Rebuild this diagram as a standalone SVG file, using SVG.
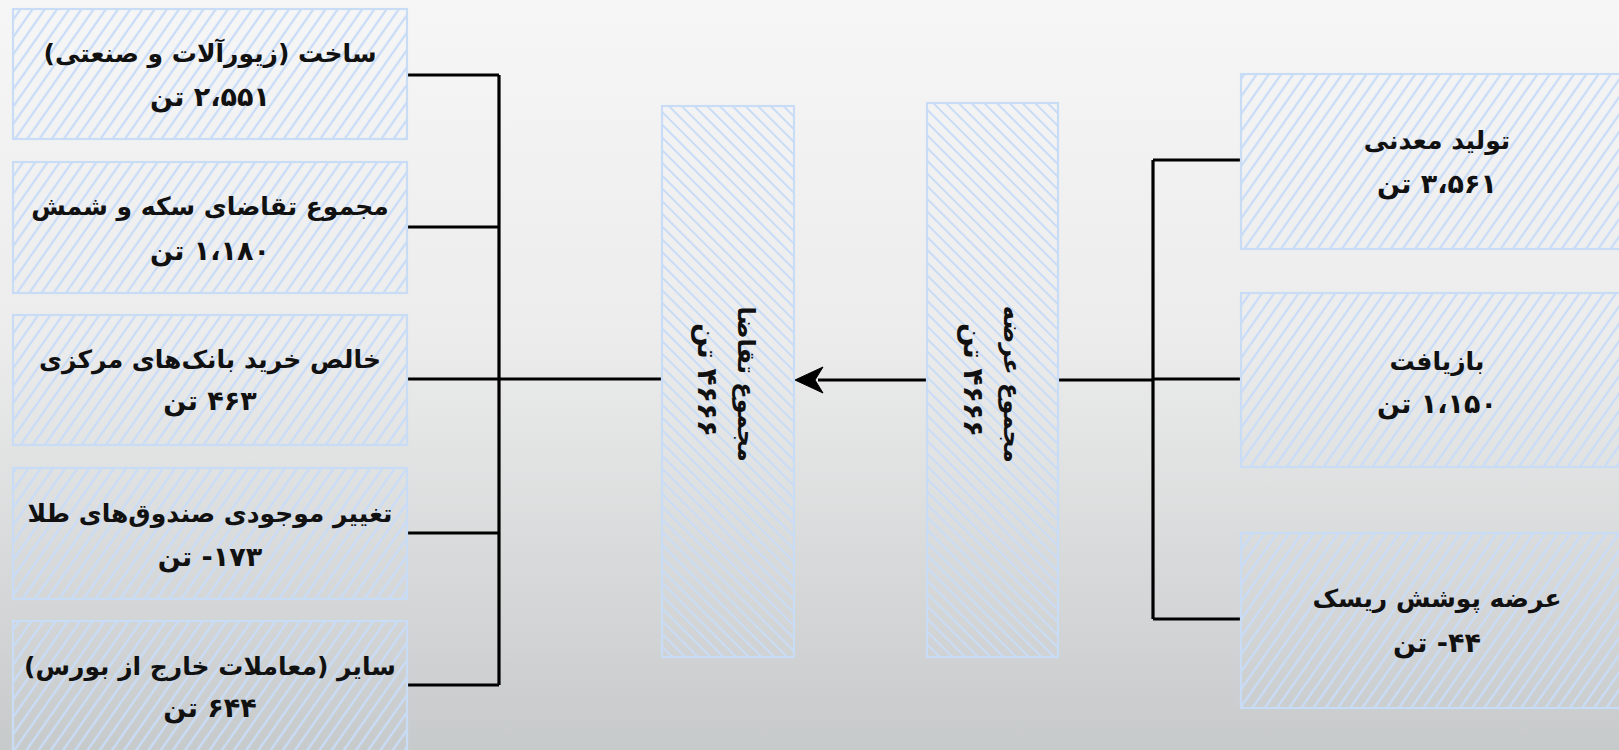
<svg xmlns="http://www.w3.org/2000/svg" width="1619" height="750" viewBox="0 0 1619 750">
  <style>
    .box { stroke: #c9dcf6; stroke-width: 2.2; }
    .side { fill: url(#hatchSide); }
    .mid { fill: url(#hatchMid); }
    .lbl { font-family: 'DejaVu Sans', 'Noto Sans', sans-serif; font-weight: bold; font-size: 25px; fill: #111; text-anchor: middle; direction: rtl; }
    .num { font-size: 27px; }
    .vlbl { font-family: 'DejaVu Sans', 'Noto Sans', sans-serif; font-weight: bold; font-size: 24px; fill: #111; text-anchor: middle; direction: rtl; }
    .vnum { font-size: 28px; }
    .conn { stroke: #000; stroke-width: 3.2; fill: none; }
  </style>
  <defs>
    <linearGradient id="bg" x1="0" y1="0" x2="0" y2="1">
      <stop offset="0" stop-color="#f6f6f6"/>
      <stop offset="0.45" stop-color="#ececec"/>
      <stop offset="1" stop-color="#c7cacb"/>
    </linearGradient>
    <pattern id="hatchSide" patternUnits="userSpaceOnUse" width="10" height="10" patternTransform="rotate(35)">
      <line x1="2" y1="0" x2="2" y2="10" stroke="#c9dcf7" stroke-width="2.3"/>
    </pattern>
    <pattern id="hatchMid" patternUnits="userSpaceOnUse" width="9" height="9" patternTransform="rotate(-45)">
      <line x1="2" y1="0" x2="2" y2="9" stroke="#c9dcf7" stroke-width="2"/>
    </pattern>
  </defs>

  <rect x="0" y="0" width="1619" height="750" fill="url(#bg)"/>

  <g id="connectors">
    <path class="conn" d="M407,75 H499 M407,227 H499 M407,379 H499 M407,533 H499 M407,685 H499 M499,75 V685 M499,379 H662"/>
    <path class="conn" d="M1241,160 H1153 M1241,379 H1153 M1241,619 H1153 M1153,160 V619 M1153,380 H1058"/>
    <line class="conn" x1="927" y1="380" x2="818" y2="380"/>
    <path d="M795,380 L823,367 L815,380 L823,393 Z" fill="#000" stroke="#000" stroke-width="1" stroke-linejoin="miter"/>
  </g>

  <g id="node-fabrication">
    <rect class="box side" x="13" y="9" width="394" height="130"/>
    <text class="lbl" x="210" y="62">ساخت (زیورآلات و صنعتی)</text>
    <text class="lbl num" x="210" y="106">۲،۵۵۱ تن</text>
  </g>
  <g id="node-coins-bars">
    <rect class="box side" x="13" y="162" width="394" height="131"/>
    <text class="lbl" x="210" y="215">مجموع تقاضای سکه و شمش</text>
    <text class="lbl num" x="210" y="260">۱،۱۸۰ تن</text>
  </g>
  <g id="node-central-banks">
    <rect class="box side" x="13" y="315" width="394" height="130"/>
    <text class="lbl" x="210" y="368">خالص خرید بانک‌های مرکزی</text>
    <text class="lbl num" x="210" y="410">۴۶۳ تن</text>
  </g>
  <g id="node-etf">
    <rect class="box side" x="13" y="468" width="394" height="131"/>
    <text class="lbl" x="210" y="522">تغییر موجودی صندوق‌های طلا</text>
    <text class="lbl num" x="210" y="566">۱۷۳- تن</text>
  </g>
  <g id="node-otc">
    <rect class="box side" x="13" y="621" width="394" height="131"/>
    <text class="lbl" x="210" y="675">سایر (معاملات خارج از بورس)</text>
    <text class="lbl num" x="210" y="717">۶۴۴ تن</text>
  </g>

  <g id="node-total-demand">
    <rect class="box mid" x="662" y="106" width="132" height="551"/>
    <text class="vlbl" transform="translate(728,380) rotate(90)">
      <tspan x="0" y="-10">مجموع تقاضا</tspan>
      <tspan class="vnum" x="0" y="30">۴۶۶۶ تن</tspan>
    </text>
  </g>
  <g id="node-total-supply">
    <rect class="box mid" x="927" y="103" width="131" height="554"/>
    <text class="vlbl" transform="translate(992,380) rotate(90)">
      <tspan x="0" y="-12">مجموع عرضه</tspan>
      <tspan class="vnum" x="0" y="28">۴۶۶۶ تن</tspan>
    </text>
  </g>

  <g id="node-mine">
    <rect class="box side" x="1241" y="74" width="392" height="175"/>
    <text class="lbl" x="1437" y="149">تولید معدنی</text>
    <text class="lbl num" x="1437" y="193">۳،۵۶۱ تن</text>
  </g>
  <g id="node-recycling">
    <rect class="box side" x="1241" y="293" width="392" height="174"/>
    <text class="lbl" x="1437" y="370">بازیافت</text>
    <text class="lbl num" x="1437" y="413">۱،۱۵۰ تن</text>
  </g>
  <g id="node-hedging">
    <rect class="box side" x="1241" y="533" width="392" height="175"/>
    <text class="lbl" x="1437" y="607">عرضه پوشش ریسک</text>
    <text class="lbl num" x="1437" y="652">۴۴-  تن</text>
  </g>
</svg>
